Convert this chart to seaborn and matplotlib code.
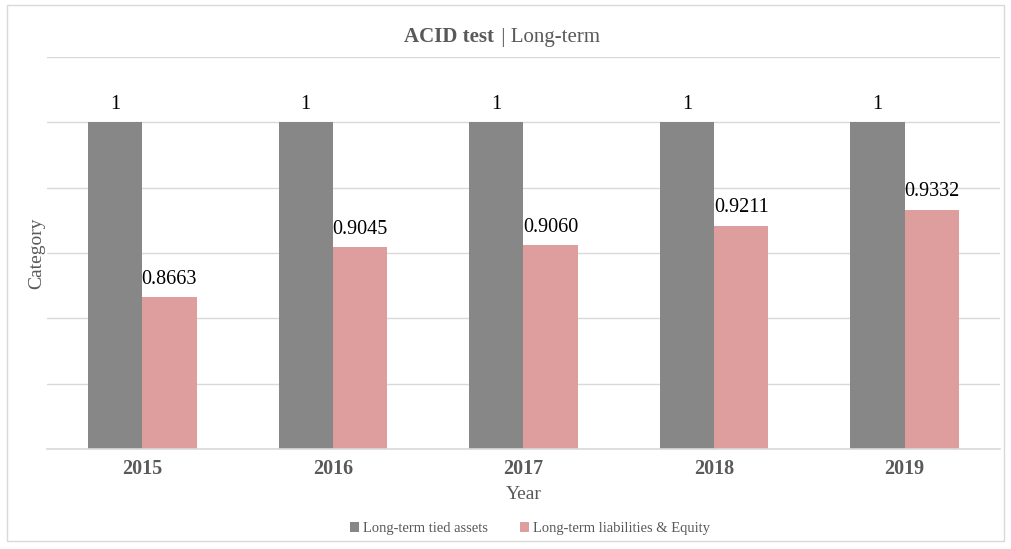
import matplotlib
matplotlib.use("Agg")
import matplotlib.pyplot as plt
import seaborn as sns
import pandas as pd
from matplotlib.patches import Rectangle

years = ["2015", "2016", "2017", "2018", "2019"]
series_names = ["Long-term tied assets", "Long-term liabilities & Equity"]
tied_assets = [1, 1, 1, 1, 1]
liabilities_equity = [0.8663, 0.9045, 0.9060, 0.9211, 0.9332]
label_formats = ["{:.0f}", "{:.4f}"]

df = pd.DataFrame({
    "Year": years * 2,
    "Value": tied_assets + liabilities_equity,
    "Series": [series_names[0]] * len(years) + [series_names[1]] * len(years),
})

sns.set_theme(style="white")
plt.rcParams["font.family"] = ["Liberation Serif", "DejaVu Serif"]

text_grey = "#595959"
grid_grey = "#D9D9D9"
colors = ["#878787", "#DE9E9E"]

fig = plt.figure(figsize=(10.12, 5.49), dpi=100)
ax = fig.add_axes([0.0464, 0.182, 0.9416, 0.714])

sns.barplot(data=df, x="Year", y="Value", hue="Series", palette=colors,
            width=0.57, saturation=1, linewidth=0, ax=ax, legend=True)

ax.set_ylim(0.75, 1.05)
ax.set_xlim(-0.5, 4.5)
ax.set_yticks([0.75, 0.80, 0.85, 0.90, 0.95, 1.00, 1.05])
ax.set_yticklabels([])
ax.tick_params(axis="y", length=0)
ax.tick_params(axis="x", length=0, pad=7)
ax.yaxis.grid(True, color=grid_grey, linewidth=1)
ax.set_axisbelow(True)
for side in ["top", "right", "left"]:
    ax.spines[side].set_visible(False)
ax.spines["bottom"].set_color(grid_grey)
ax.spines["bottom"].set_linewidth(1.2)

for lbl in ax.get_xticklabels():
    lbl.set_fontweight("bold")
    lbl.set_fontsize(14.5)
    lbl.set_color(text_grey)

ax.set_xlabel("Year", fontsize=14, color=text_grey, labelpad=5)
ax.set_ylabel("Category", fontsize=14, color=text_grey, labelpad=-2)

for container, fmt in zip(ax.containers, label_formats):
    ax.bar_label(container, labels=[fmt.format(v) for v in container.datavalues],
                 padding=6, fontsize=14.5, color="black")

handles, labels = ax.get_legend_handles_labels()
ax.legend(handles, labels, loc="center", bbox_to_anchor=(0.507, -0.203),
          ncol=2, frameon=False, fontsize=10.5, handlelength=0.6, handleheight=0.6,
          handletextpad=0.3, columnspacing=2.2, labelcolor=text_grey)

# Chart title: bold lead followed by a regular subtitle
fig.text(0.4885, 0.932, "ACID test", ha="right", va="center", fontsize=15,
         fontweight="bold", color=text_grey)
fig.text(0.4905, 0.932, " | Long-term", ha="left", va="center", fontsize=15,
         color=text_grey)

# Light outer frame around the chart area
fig.patches.append(Rectangle((0.007, 0.015), 0.985, 0.975, transform=fig.transFigure,
                             fill=False, edgecolor="#D9D9D9", linewidth=1))

fig.savefig("out.png", dpi=100)
